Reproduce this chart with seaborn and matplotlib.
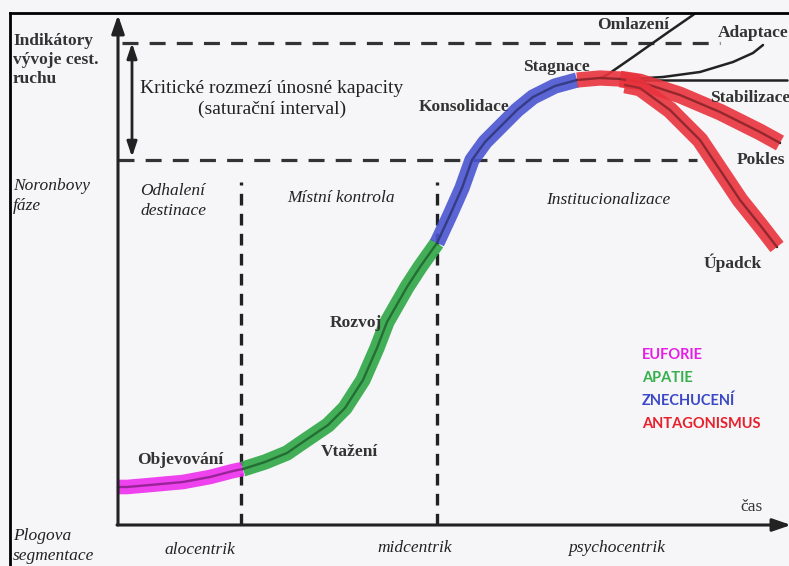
import seaborn as sns
import matplotlib.pyplot as plt
import pandas as pd
import numpy as np

# Butlerův cyklus + Doxeyho index (prekreslené)
# time (t) a úroveň (v) v jednotkách obrázku, počátek = průsečík os

t_pink = [0, 9, 32, 65, 92, 115, 125]
v_pink = [38, 38, 40, 43, 48, 54, 56]

t_green = [125, 147, 169, 182, 210, 227, 245, 259, 269, 289, 302, 319]
v_green = [56, 63, 72, 81, 100, 117, 145, 177, 203, 238, 258, 282]

t_blue = [319, 332, 344, 354, 367, 382, 399, 415, 437, 459]
v_blue = [282, 310, 337, 365, 383, 398, 415, 428, 439, 445]

t_red_top = [459, 482, 502, 522]
v_red_top = [445, 447, 446, 443]

t_pokles = [502, 522, 562, 602, 642, 662]
v_pokles = [446, 443, 430, 413, 393, 382]

t_upadek = [507, 522, 552, 582, 602, 622, 642, 659]
v_upadek = [440, 437, 415, 385, 355, 325, 300, 278]

# cerne vetve
t_stabil = [512, 669]
v_stabil = [445, 445]
t_adapt = [512, 545, 582, 615, 635, 645]
v_adapt = [446, 448, 453, 463, 472, 480]
t_omlaz = [482, 489, 515, 549, 575, 585]
v_omlaz = [447, 450, 468, 492, 510, 518]

capacity_upper = 482
capacity_lower = 365
phase_bounds = [123, 319]
phase_top = 343

labels_legend = ['EUFORIE', 'APATIE', 'ZNECHUCENÍ', 'ANTAGONISMUS']
colors_legend = ['#e51ee5', '#36b04c', '#3b48c8', '#e8202c']
stroke_colors = ['#ee2eee', '#2ea846', '#4a55d0', '#e8333d']

# --- figura
W, H = 789, 566
fig = plt.figure(figsize=(W / 100, H / 100), dpi=100)
bg = '#f6f6f8'
fig.patch.set_facecolor(bg)
sns.set_style("white")
plt.rcParams['font.family'] = ['Liberation Serif', 'DejaVu Serif']

ax = fig.add_axes([10 / W, 0, (W - 10) / W, (H - 13) / H])
ax.set_facecolor(bg)
ax.set_xlim(-108, 671)
ax.set_ylim(-41, 512)
for s in ['right', 'bottom']:
    ax.spines[s].set_visible(False)
for s in ['left', 'top']:
    ax.spines[s].set_linewidth(2)
    ax.spines[s].set_color('black')
ax.set_xticks([])
ax.set_yticks([])

# osy se sipkami
ax.annotate('', xy=(0, 510), xytext=(0, 0), annotation_clip=False,
            arrowprops=dict(arrowstyle='-|>,head_length=1.1,head_width=0.38',
                            lw=2.2, color='#222222', shrinkA=0, shrinkB=0))
ax.annotate('', xy=(673, 0), xytext=(-1, 0), annotation_clip=False,
            arrowprops=dict(arrowstyle='-|>,head_length=1.1,head_width=0.38',
                            lw=2.2, color='#222222', shrinkA=0, shrinkB=0))
# saturacni interval
ax.annotate('', xy=(14, capacity_upper), xytext=(14, capacity_lower + 3),
            arrowprops=dict(arrowstyle='<|-|>,head_length=0.9,head_width=0.3',
                            lw=2, color='#222222', shrinkA=0, shrinkB=0))
ax.plot([4, 602], [capacity_upper] * 2, ls=(0, (5, 3.5)), lw=2.3, color='#333333')
ax.plot([0, 579], [capacity_lower] * 2, ls=(0, (5, 3.5)), lw=2.3, color='#333333')
for b in phase_bounds:
    ax.plot([b, b], [0, phase_top], ls=(0, (3.5, 2.5)), lw=2.4, color='#222222')

# cerna puvodni krivka
t_all = t_pink + t_green[1:] + t_blue[1:] + t_red_top[1:]
v_all = v_pink + v_green[1:] + v_blue[1:] + v_red_top[1:]
sns.lineplot(x=t_all, y=v_all, sort=False, estimator=None, color='#222222', lw=1.8, ax=ax)
for tt, vv in [(t_stabil, v_stabil), (t_adapt, v_adapt), (t_omlaz, v_omlaz),
               (t_pokles, v_pokles), (t_upadek, v_upadek)]:
    sns.lineplot(x=tt, y=vv, sort=False, estimator=None, color='#222222', lw=1.8, ax=ax)

# barevne tahy
segs = [(t_pink, v_pink, stroke_colors[0], 10.5),
        (t_green, v_green, stroke_colors[1], 11),
        (t_blue, v_blue, stroke_colors[2], 11),
        (t_red_top, v_red_top, stroke_colors[3], 11),
        (t_pokles, v_pokles, stroke_colors[3], 12),
        (t_upadek, v_upadek, stroke_colors[3], 12)]
for tt, vv, c, w in segs:
    sns.lineplot(x=tt, y=vv, sort=False, estimator=None, color=c, lw=w,
                 alpha=0.9, ax=ax)
    l = ax.lines[-1]
    l.set_solid_capstyle('butt')
    l.set_solid_joinstyle('round')
    sns.lineplot(x=tt, y=vv, sort=False, estimator=None, color='#1a1a1a', lw=1.6,
                 alpha=0.35, ax=ax)


def px(x, y):
    return x - 118, 525 - y


def txt(x, y, s, **kw):
    tx, ty = px(x, y)
    ax.text(tx, ty, s, va='center', **kw)


bold = dict(fontweight='bold', fontsize=12.5, color='#333333', ha='center')
ital = dict(fontstyle='italic', fontsize=12.5, color='#222222')

txt(13, 60, 'Indikátory\nvývoje cest.\nruchu', fontweight='bold', fontsize=12.5,
    color='#333333', ha='left', linespacing=1.25)
txt(272, 99, 'Kritické rozmezí únosné kapacity\n(saturační interval)', fontsize=14,
    color='#222222', ha='center', multialignment='center', linespacing=1.3)
txt(13, 196, 'Noronbovy\nfáze', ha='left', linespacing=1.3, **ital)
txt(140, 201, 'Odhalení\ndestinace', ha='left', linespacing=1.3, **ital)
txt(341, 198, 'Místní kontrola', ha='center', **ital)
txt(608, 200, 'Institucionalizace', ha='center', **ital)
txt(556, 67, 'Stagnace', **bold)
txt(464, 107, 'Konsolidace', **bold)
txt(633, 25, 'Omlazení', **bold)
txt(753, 33, 'Adaptace', **bold)
txt(710, 98, 'Stabilizace', fontweight='bold', fontsize=12.5, color='#333333', ha='left')
txt(761, 160, 'Pokles', **bold)
txt(733, 263, 'Úpadck', **bold)
txt(356, 323, 'Rozvoj', **bold)
txt(180, 460, 'Objevování', **bold)
txt(349, 452, 'Vtažení', **bold)
txt(752, 507, 'čas', fontsize=12.5, color='#333333', ha='center')
txt(13, 546, 'Plogova\nsegmentace', ha='left', linespacing=1.3, **ital)
txt(200, 550, 'alocentrik', ha='center', **ital)
txt(415, 548, 'midcentrik', ha='center', **ital)
txt(617, 548, 'psychocentrik', ha='center', **ital)

for i, (lab, c) in enumerate(zip(labels_legend, colors_legend)):
    txt(642, 355 + i * 23, lab, color=c, fontsize=10.5, fontweight='bold',
        ha='left', family=['Lato', 'DejaVu Sans'])

fig.savefig('out.png', dpi=100, facecolor=bg)
